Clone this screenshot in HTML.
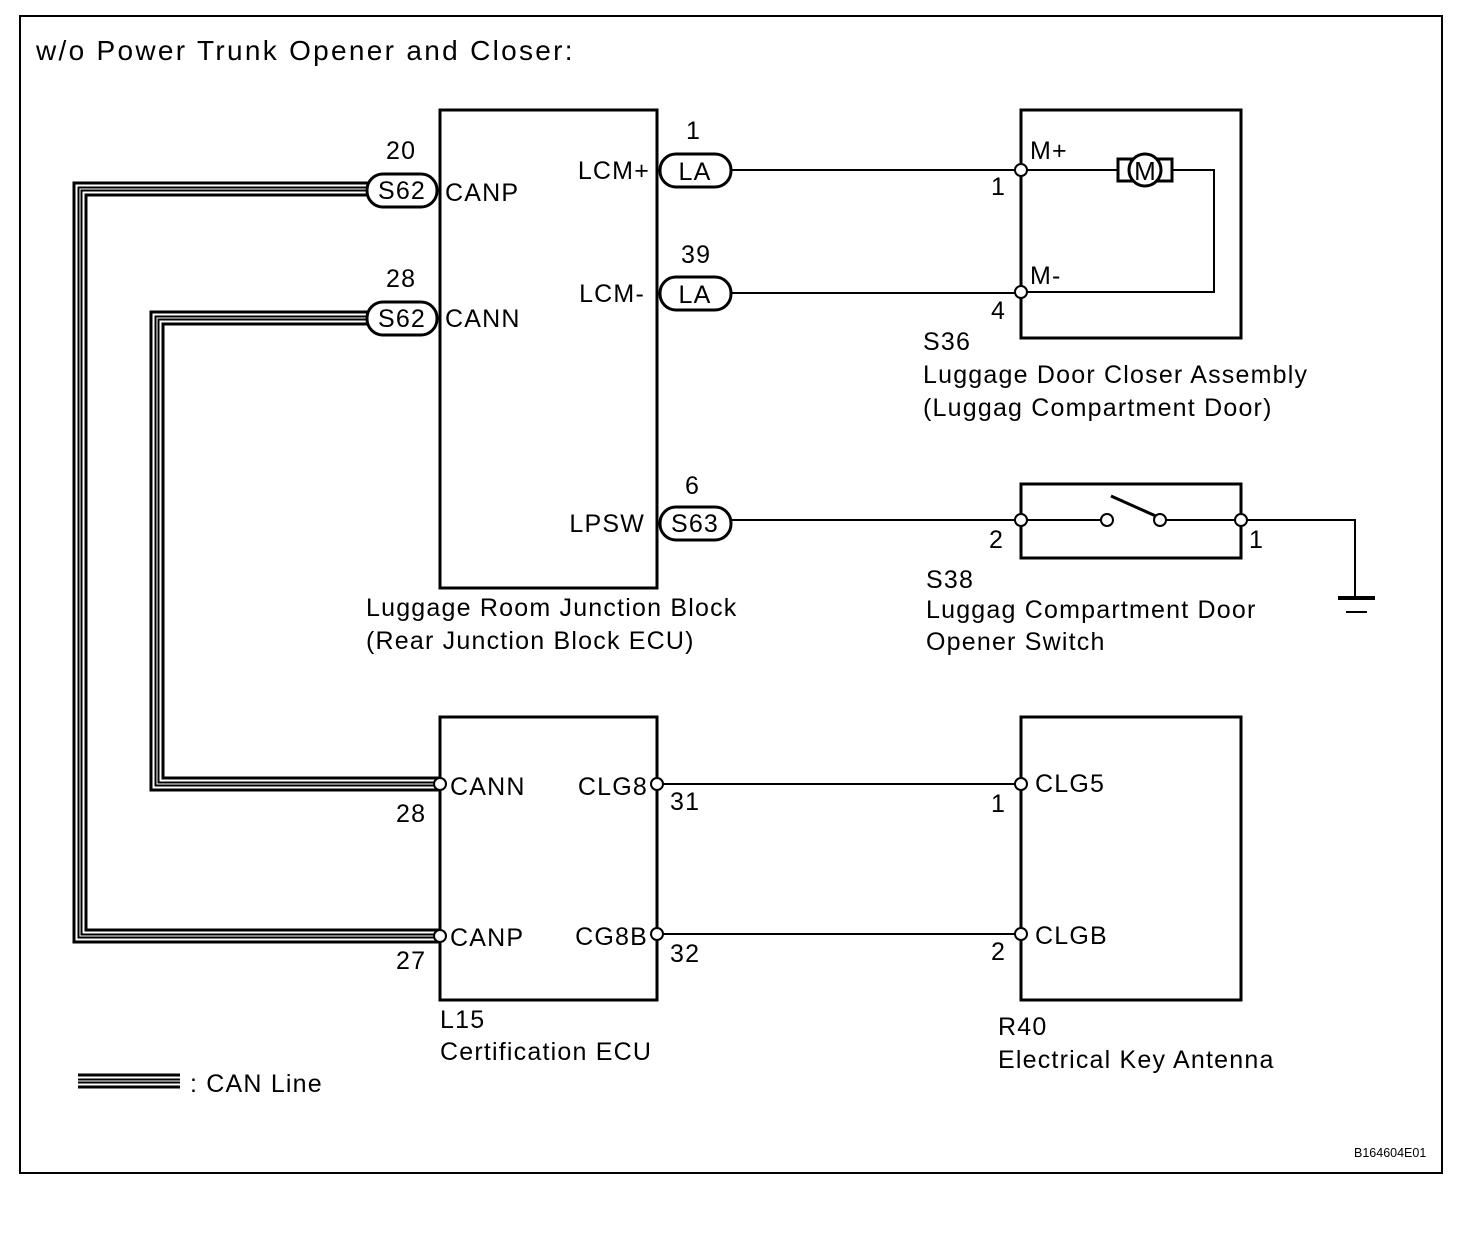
<!DOCTYPE html>
<html><head><meta charset="utf-8"><style>
html,body{margin:0;padding:0;background:#fff}
svg{display:block}
text{font-family:"Liberation Sans",Arial,sans-serif;font-size:25px;letter-spacing:1.2px;fill:#000}
</style></head><body>
<svg width="1472" height="1236" viewBox="0 0 1472 1236" xmlns="http://www.w3.org/2000/svg">
<rect x="20" y="16" width="1422" height="1157" fill="none" stroke="#000" stroke-width="2"/>
<text x="36" y="60" style="font-size:28px;letter-spacing:2.3px">w/o Power Trunk Opener and Closer:</text>

<g fill="none" stroke-linejoin="miter">
<path d="M368 189 H80 V936 H440" stroke="#000" stroke-width="15"/>
<path d="M368 189 H80 V936 H440" stroke="#fff" stroke-width="9"/>
<path d="M368 189 H80 V936 H440" stroke="#000" stroke-width="5"/>
<path d="M368 189 H80 V936 H440" stroke="#fff" stroke-width="1"/>
<path d="M368 318 H157 V784 H440" stroke="#000" stroke-width="15"/>
<path d="M368 318 H157 V784 H440" stroke="#fff" stroke-width="9"/>
<path d="M368 318 H157 V784 H440" stroke="#000" stroke-width="5"/>
<path d="M368 318 H157 V784 H440" stroke="#fff" stroke-width="1"/>
<path d="M78 1081 H180" stroke="#000" stroke-width="15"/>
<path d="M78 1081 H180" stroke="#fff" stroke-width="9"/>
<path d="M78 1081 H180" stroke="#000" stroke-width="5"/>
<path d="M78 1081 H180" stroke="#fff" stroke-width="1"/>
</g>

<g fill="none" stroke="#000" stroke-width="2">
<rect x="440" y="110" width="217" height="478" stroke-width="3"/>
<rect x="1021" y="110" width="220" height="228" stroke-width="3"/>
<rect x="1021" y="484" width="220" height="74" stroke-width="3"/>
<rect x="440" y="717" width="217" height="283" stroke-width="3"/>
<rect x="1021" y="717" width="220" height="283" stroke-width="3"/>
<path d="M731 170 H1021"/>
<path d="M731 293 H1021"/>
<path d="M731 520 H1021"/>
<path d="M1021 170 H1118 M1172 170 H1214 V292 H1021"/>
<path d="M1021 520 H1107 M1160 520 H1241 M1241 520 H1355 V597"/>
<path d="M657 784 H1021"/>
<path d="M657 934 H1021"/>
<path d="M1111 496 L1158 517" stroke-width="3"/>
<path d="M1338 598 H1375" stroke-width="4"/>
<path d="M1346 612 H1367"/>
<rect x="1118" y="159" width="54" height="22" fill="#fff" stroke-width="3"/>
<circle cx="1145" cy="170" r="16" fill="#fff" stroke-width="3"/>
</g>
<text x="1145" y="180" text-anchor="middle" style="font-size:26px;letter-spacing:0">M</text>

<g fill="#fff" stroke="#000" stroke-width="3">
<rect x="367" y="174" width="70" height="33" rx="16"/>
<rect x="367" y="302" width="70" height="33" rx="16"/>
<rect x="660" y="154" width="71" height="33" rx="16"/>
<rect x="660" y="277" width="71" height="33" rx="16"/>
<rect x="660" y="507" width="71" height="33" rx="16"/>
</g>
<g style="letter-spacing:0.5px">
<text x="402" y="199" text-anchor="middle">S62</text>
<text x="402" y="327" text-anchor="middle">S62</text>
<text x="695" y="180" text-anchor="middle">LA</text>
<text x="695" y="303" text-anchor="middle">LA</text>
<text x="695" y="532" text-anchor="middle">S63</text>
</g>

<g fill="#fff" stroke="#000" stroke-width="2">
<circle cx="1021" cy="170" r="6"/><circle cx="1021" cy="292" r="6"/>
<circle cx="1021" cy="520" r="6"/><circle cx="1107" cy="520" r="6"/>
<circle cx="1160" cy="520" r="6"/><circle cx="1241" cy="520" r="6"/>
<circle cx="440" cy="784" r="6"/><circle cx="440" cy="936" r="6"/>
<circle cx="657" cy="784" r="6"/><circle cx="657" cy="934" r="6"/>
<circle cx="1021" cy="784" r="6"/><circle cx="1021" cy="934" r="6"/>
</g>

<text x="386" y="159">20</text>
<text x="386" y="287">28</text>
<text x="686" y="139">1</text>
<text x="681" y="263">39</text>
<text x="685" y="494">6</text>
<text x="445" y="201">CANP</text>
<text x="445" y="327">CANN</text>
<text x="650" y="179" text-anchor="end">LCM+</text>
<text x="645" y="302" text-anchor="end">LCM-</text>
<text x="645" y="532" text-anchor="end">LPSW</text>
<text x="366" y="616">Luggage Room Junction Block</text>
<text x="366" y="649">(Rear Junction Block ECU)</text>

<text x="1030" y="159">M+</text>
<text x="1030" y="284">M-</text>
<text x="991" y="195">1</text>
<text x="991" y="319">4</text>
<text x="923" y="350">S36</text>
<text x="923" y="383">Luggage Door Closer Assembly</text>
<text x="923" y="416">(Luggag Compartment Door)</text>

<text x="989" y="548">2</text>
<text x="1249" y="548">1</text>
<text x="926" y="588">S38</text>
<text x="926" y="618">Luggag Compartment Door</text>
<text x="926" y="650">Opener Switch</text>

<text x="450" y="795">CANN</text>
<text x="450" y="946">CANP</text>
<text x="648" y="795" text-anchor="end">CLG8</text>
<text x="648" y="945" text-anchor="end">CG8B</text>
<text x="396" y="822">28</text>
<text x="396" y="969">27</text>
<text x="670" y="810">31</text>
<text x="670" y="962">32</text>
<text x="440" y="1028">L15</text>
<text x="440" y="1060">Certification ECU</text>

<text x="991" y="812">1</text>
<text x="991" y="960">2</text>
<text x="1035" y="792">CLG5</text>
<text x="1035" y="944">CLGB</text>
<text x="998" y="1035">R40</text>
<text x="998" y="1068">Electrical Key Antenna</text>

<text x="190" y="1092">: CAN Line</text>
<text x="1354" y="1157" style="font-size:12.5px;letter-spacing:0">B164604E01</text>
</svg>
</body></html>
